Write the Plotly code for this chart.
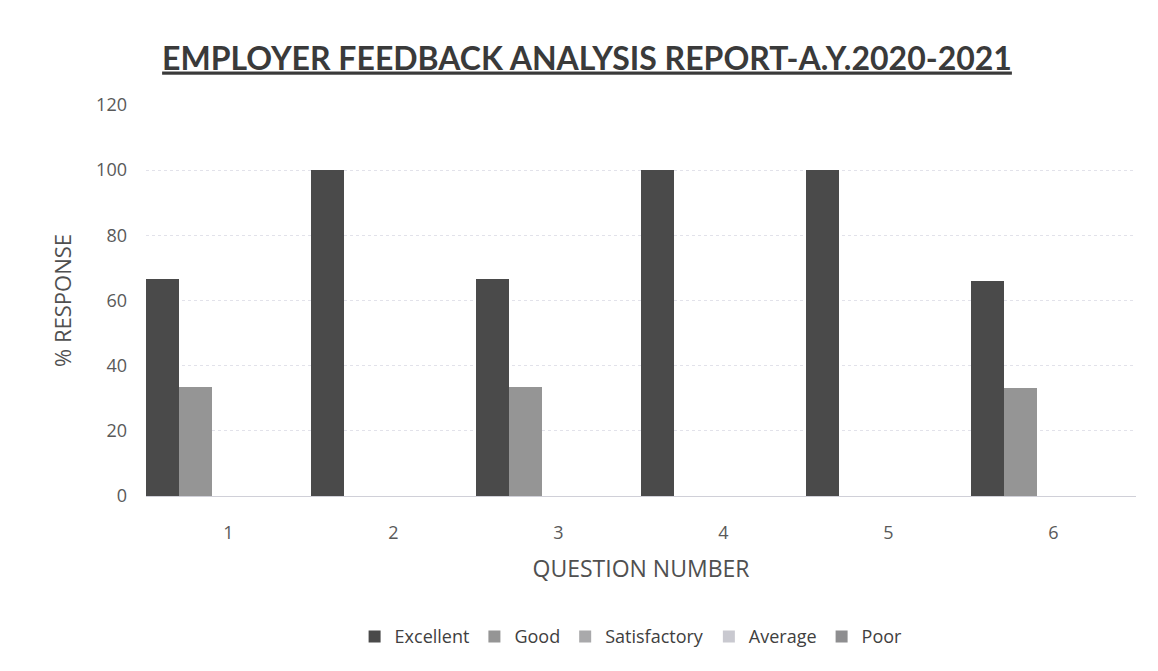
import plotly.graph_objects as go

# data
questions = ["1", "2", "3", "4", "5", "6"]
excellent = [66.67, 100, 66.67, 100, 100, 66.0]
good = [33.33, 0, 33.33, 0, 0, 33.0]
satisfactory = [0, 0, 0, 0, 0, 0]
average = [0, 0, 0, 0, 0, 0]
poor = [0, 0, 0, 0, 0, 0]

series = [
    ("Excellent", excellent, "#4a4a4a"),
    ("Good", good, "#959595"),
    ("Satisfactory", satisfactory, "#a9a9ab"),
    ("Average", average, "#c9c9d0"),
    ("Poor", poor, "#8e8e90"),
]

font = "Open Sans, Lato, sans-serif"

fig = go.Figure()
for name, vals, col in series:
    fig.add_trace(go.Bar(x=questions, y=vals, name=name, marker_color=col,
                         marker_line_width=0))

fig.update_layout(
    width=1158, height=671,
    paper_bgcolor="white", plot_bgcolor="white",
    barmode="group", bargap=0, bargroupgap=0,
    margin=dict(l=138, r=30, t=97, b=183),
    title=dict(text="<b><u>EMPLOYER FEEDBACK ANALYSIS REPORT-A.Y.2020-2021</u></b>",
               x=0.5, xanchor="center", y=0.925, yanchor="middle",
               font=dict(family="Lato, Open Sans, sans-serif", size=32, color="#3a3a3a")),
    font=dict(family=font, color="#595959"),
    legend=dict(orientation="h", x=0.49, xanchor="center", y=-0.36, yanchor="middle",
                font=dict(size=18, color="#404040"), traceorder="normal",
                itemwidth=30),
    xaxis=dict(title=dict(text="QUESTION NUMBER", font=dict(size=23, color="#505050"),
                          standoff=18),
               tickfont=dict(size=18, color="#595959"), ticks="",
               ticklabelstandoff=20,
               showline=True, linecolor="#d0d0d8", linewidth=1),
    yaxis=dict(title=dict(text="% RESPONSE", font=dict(size=22, color="#505050"),
                          standoff=18),
               range=[0, 120], dtick=20, tickfont=dict(size=18, color="#595959"),
               ticklabelstandoff=18,
               showgrid=True, gridcolor="#e2e2ea", griddash="dot", gridwidth=1,
               zeroline=False, ticks=""),
)

fig.write_html("out.html")
